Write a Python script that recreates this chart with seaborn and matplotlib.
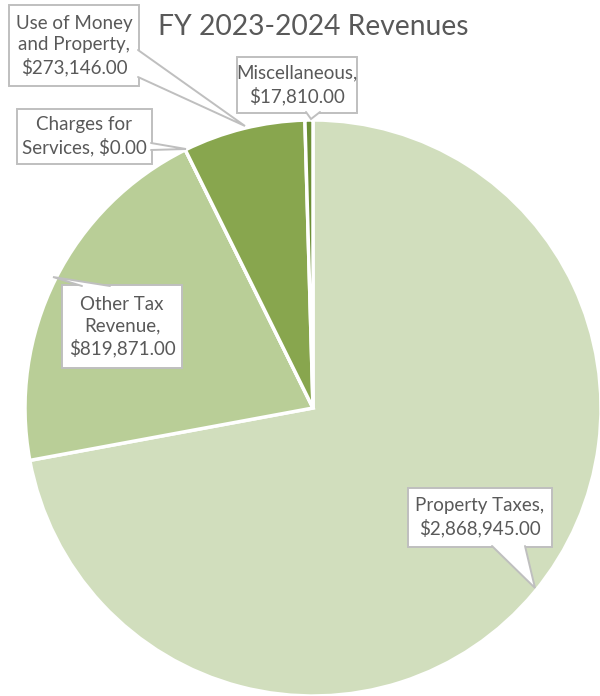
import matplotlib
matplotlib.use("Agg")
import matplotlib.pyplot as plt
from matplotlib.patches import Rectangle, Polygon
import seaborn as sns

categories = ["Property Taxes", "Other Tax Revenue", "Charges for Services",
              "Use of Money and Property", "Miscellaneous"]
values = [2868945.00, 819871.00, 0.00, 273146.00, 17810.00]
label_text = ["Property Taxes,\n$2,868,945.00", "Other Tax\nRevenue,\n$819,871.00",
              "Charges for\nServices, $0.00", "Use of Money\nand Property,\n$273,146.00",
              "Miscellaneous,\n$17,810.00"]
colors = ["#D1DEBD", "#B9CE97", "#A4BF79", "#88A64E", "#6B8E35"]

sns.set_style("white")
plt.rcParams['font.family'] = ['Lato', 'DejaVu Sans']

W, H = 600, 696
fig = plt.figure(figsize=(6, 6.96), dpi=100)
ax = fig.add_axes([0, 0, 1, 1])

cx, cy, r = 313, H - 408, 288
ax.pie(values, colors=colors, startangle=90, counterclock=False,
       center=(cx, cy), radius=r, frame=True,
       wedgeprops=dict(edgecolor='white', linewidth=2.5))
ax.set_xlim(0, W)
ax.set_ylim(0, H)
ax.set_aspect('equal')
ax.axis('off')

ax.text(313, H - 27, "FY 2023-2024 Revenues", ha='center', va='center',
        fontsize=20.3, color='#595959')

# callout boxes in pixel coords (x0, y0, x1, y1), tail base points and tip
callouts = [
    ((408, 488, 552, 547), [(492, 546), (525, 546)], (535, 588)),
    ((62, 285, 182, 368), [(82, 286), (110, 286)], (53, 277)),
    ((17, 109, 152, 164), [(151, 143), (151, 150)], (186, 149)),
    ((9, 5, 139, 86), [(138, 50), (138, 77)], (245, 126)),
    ((237, 57, 357, 113), [(306, 112), (320, 112)], (311, 119)),
]
gray = '#BFBFBF'
for text, ((x0, y0, x1, y1), base, tip) in zip(label_text, callouts):
    ax.add_patch(Rectangle((x0, H - y1), x1 - x0, y1 - y0, fc='white',
                           ec=gray, lw=1.4, zorder=3))
    pts = [(base[0][0], H - base[0][1]), (tip[0], H - tip[1]), (base[1][0], H - base[1][1])]
    ax.add_patch(Polygon(pts, closed=True, fc='white', ec='none', zorder=4))
    ax.plot([p[0] for p in pts], [p[1] for p in pts], color=gray, lw=1.4, zorder=5,
            solid_joinstyle='miter')
    ax.text((x0 + x1) / 2, H - (y0 + y1) / 2, text, ha='center', va='center',
            fontsize=13.5, color='#595959', linespacing=1.3, zorder=6)

fig.savefig("out.png", dpi=100)
